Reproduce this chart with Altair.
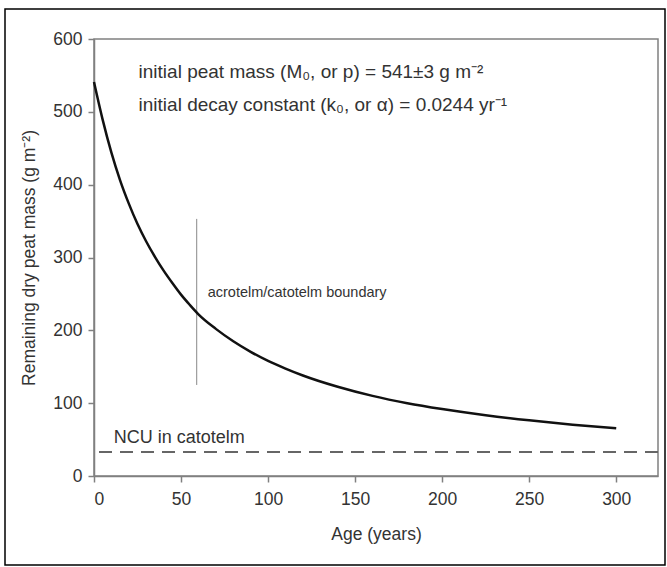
import altair as alt
import pandas as pd

# Curve
ages = [0, 5, 10, 15, 20, 25, 30, 35, 40, 45, 50, 55, 60, 70, 80, 90, 100, 110, 120, 140, 160, 180, 200, 225, 250, 275, 300]
mass = [541, 489, 444, 406, 374, 346, 322, 301, 282, 265, 249, 235, 222, 202, 185, 170.5, 158, 147.5, 138, 122.5, 110, 100, 92, 83.5, 76.5, 70.5, 65.5]

boundary_age = [59]
boundary_low = [125]
boundary_high = [353]
ncu_level = [33]

x_ticks = [0, 50, 100, 150, 200, 250, 300]
y_ticks = [0, 100, 200, 300, 400, 500, 600]

FONT = "Liberation Sans"
TXT = "#333333"
GRAY = "#808080"

curve_df = pd.DataFrame({"age": ages, "mass": mass})
bnd_df = pd.DataFrame({"age": boundary_age, "lo": boundary_low, "hi": boundary_high})
ncu_df = pd.DataFrame({"ncu": ncu_level})

xscale = alt.Scale(domain=[0, 324], nice=False, zero=False)
yscale = alt.Scale(domain=[0, 600], nice=False)

xaxis = alt.Axis(values=x_ticks, title="Age (years)", labelPadding=8, titlePadding=18)
yaxis = alt.Axis(values=y_ticks, title="Remaining dry peat mass (g m⁻²)", labelPadding=6, titlePadding=14)

curve = alt.Chart(curve_df).mark_line(color="#111111", strokeWidth=2.5, interpolate="monotone").encode(
    x=alt.X("age:Q", scale=xscale, axis=xaxis),
    y=alt.Y("mass:Q", scale=yscale, axis=yaxis),
)

boundary = alt.Chart(bnd_df).mark_rule(color="#888888", strokeWidth=1).encode(
    x="age:Q", y="lo:Q", y2="hi:Q"
)

ncu = alt.Chart(ncu_df).mark_rule(color="#666666", strokeWidth=2, strokeDash=[13, 8]).encode(
    y="ncu:Q"
)

def label(text, x, y, size, dx=0):
    return alt.Chart(pd.DataFrame({"t": [text]})).mark_text(
        align="left", baseline="middle", font=FONT, fontSize=size, color=TXT, dx=dx
    ).encode(x=alt.datum(x), y=alt.datum(y), text="t:N")

t1 = label("initial peat mass (M₀, or p) = 541±3 g m⁻²", 25.6, 555, 19)
t2 = label("initial decay constant (k₀, or α) = 0.0244 yr⁻¹", 25.6, 510, 19)
t3 = label("acrotelm/catotelm boundary", 65.3, 251, 14.5)
t4 = label("NCU in catotelm", 11.3, 52, 18)

border = alt.Chart(pd.DataFrame({"a": [0]})).mark_rect(
    fill=None, stroke="black", strokeWidth=1.5
).encode(
    x=alt.value(-89), x2=alt.value(571), y=alt.value(-30), y2=alt.value(526)
)

chart = alt.layer(ncu, boundary, curve, t1, t2, t3, t4, border).properties(
    width=564,
    height=437,
    autosize=alt.AutoSizeParams(type="none"),
    padding={"left": 94, "top": 39, "right": 9, "bottom": 91},
    background="white",
).configure_view(
    stroke=GRAY, strokeWidth=1.5
).configure_axis(
    grid=False,
    labelFont=FONT, labelFontSize=17.5, labelColor=TXT,
    titleFont=FONT, titleFontSize=17.5, titleColor=TXT, titleFontWeight="normal",
    domainColor=GRAY, domainWidth=1.5, tickColor=GRAY, tickWidth=1.5, tickSize=6,
)

chart.save("out.html", embed_options={"renderer": "svg", "actions": False})
